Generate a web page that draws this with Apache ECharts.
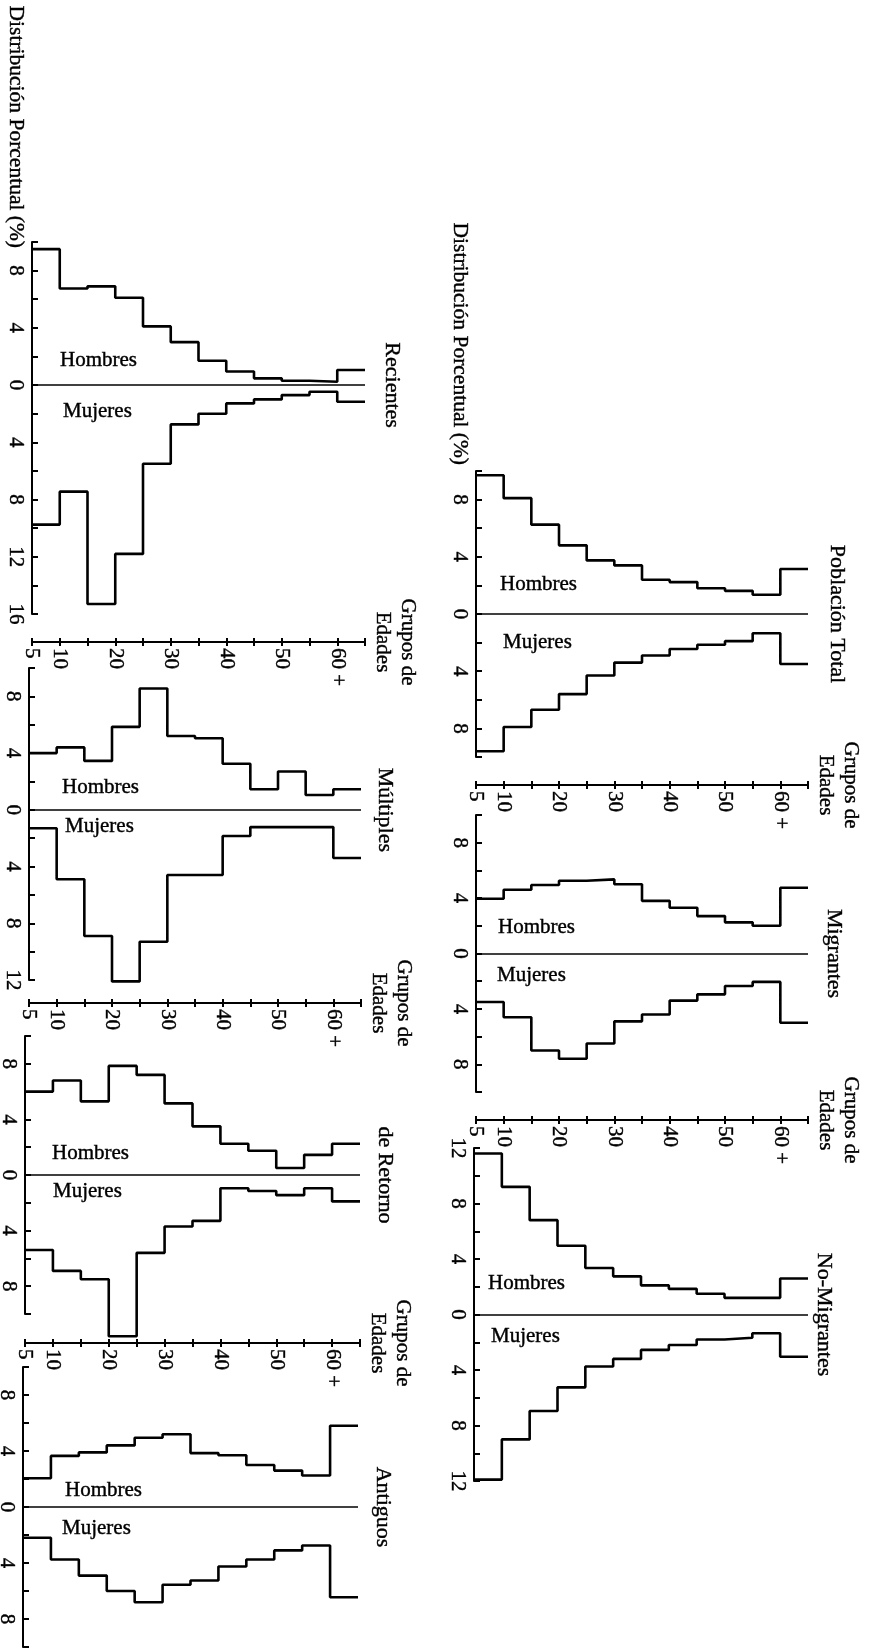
<!DOCTYPE html>
<html><head><meta charset="utf-8">
<script src="https://cdn.jsdelivr.net/npm/echarts@6/dist/echarts.min.js"></script>
<style>html,body{margin:0;padding:0;background:#fff}#c{width:872px;height:1649px}</style>
</head><body><div id="c"></div>
<script>
// ---- data ----
const ageStarts = [5, 10, 15, 20, 25, 30, 35, 40, 45, 50, 55, 60];
const ageEnd = 65;
const ageTickLabels = {5: '5', 10: '10', 20: '20', 30: '30', 40: '40', 50: '50', 60: '60 +'};
const panelNames = ['Población Total', 'Migrantes', 'No-Migrantes', 'Recientes', 'Múltiples', 'de Retorno', 'Antiguos'];
const sexLabels = ['Hombres', 'Mujeres'];
const yTitle = 'Distribución Porcentual (%)';
const xTitle = 'Grupos de\nEdades';

const totalHombres = [9.7, 8.1, 6.25, 4.8, 3.75, 3.4, 2.4, 2.23, 1.8, 1.62, 1.35, 3.15];
const totalMujeres = [9.6, 7.9, 6.7, 5.6, 4.3, 3.4, 2.9, 2.45, 2.15, 1.9, 1.35, 3.5];
const migHombres = [3.95, 4.6, 4.95, 5.25, 5.35, 5.0, 3.8, 3.3, 2.7, 2.25, 2.0, 4.75];
const migMujeres = [3.5, 4.6, 7.0, 7.6, 6.5, 4.9, 4.4, 3.4, 2.95, 2.35, 2.05, 5.0];
const noMigHombres = [11.6, 9.2, 6.8, 4.95, 3.35, 2.75, 2.1, 1.85, 1.5, 1.2, 1.2, 2.6];
const noMigMujeres = [11.9, 9.0, 6.95, 5.25, 3.75, 3.2, 2.55, 2.2, 1.8, 1.68, 1.35, 3.05];
const recHombres = [9.5, 6.75, 6.9, 6.1, 4.1, 3.0, 1.7, 0.95, 0.47, 0.3, 0.23, 1.05];
const recMujeres = [9.75, 7.45, 15.3, 11.8, 5.5, 2.75, 2.0, 1.28, 1.0, 0.7, 0.47, 1.17];
const multHombres = [4.0, 4.4, 3.45, 5.85, 8.55, 5.2, 5.05, 3.25, 1.45, 2.7, 1.05, 1.45];
const multMujeres = [1.3, 4.9, 8.9, 12.1, 9.3, 4.6, 4.6, 1.85, 1.22, 1.22, 1.22, 3.4];
const retHombres = [6.0, 6.8, 5.3, 7.85, 7.2, 5.15, 3.5, 2.25, 1.75, 0.5, 1.45, 2.25];
const retMujeres = [5.4, 6.9, 7.5, 11.6, 5.6, 3.7, 3.3, 0.95, 1.15, 1.45, 0.95, 1.9];
const antHombres = [2.05, 3.65, 3.9, 4.4, 4.95, 5.2, 3.85, 3.7, 3.0, 2.6, 2.25, 5.8];
const antMujeres = [2.2, 3.75, 4.9, 6.0, 6.8, 5.55, 5.25, 4.25, 3.75, 3.1, 2.75, 6.45];

const hombresSets = [totalHombres, migHombres, noMigHombres, recHombres, multHombres, retHombres, antHombres];
const mujeresSets = [totalMujeres, migMujeres, noMigMujeres, recMujeres, multMujeres, retMujeres, antMujeres];
const axisMax = [10, 10, 12, 10, 10, 10, 10];
const axisMin = [-10, -10, -12, -16, -12, -10, -10];

// ---- layout (pixels) ----
const layout = [
  {left: 476, right: 808, top: 471, bottom: 757, axisY: 785, ageAxis: true, titleDx: 29, hx: 24, hy: -30, mx: 27, my: 28, yTitleEnd: -6},
  {left: 476, right: 808, top: 815, bottom: 1092, axisY: 1120, ageAxis: true, titleDx: 26, hx: 22, hy: -26, mx: 21, my: 22},
  {left: 474, right: 808, top: 1148, bottom: 1481, axisY: 1510, ageAxis: false, titleDx: 16, hx: 14, hy: -31, mx: 17, my: 22},
  {left: 32, right: 365, top: 242, bottom: 614, axisY: 642, ageAxis: true, titleDx: 27, hx: 28, hy: -25, mx: 31, my: 26, yTitleEnd: 6},
  {left: 29, right: 361, top: 668, bottom: 980, axisY: 1003, ageAxis: true, titleDx: 24, hx: 33, hy: -22, mx: 36, my: 17},
  {left: 25, right: 360, top: 1036, bottom: 1314, axisY: 1343, ageAxis: true, titleDx: 25, hx: 27, hy: -22, mx: 28, my: 16},
  {left: 23, right: 358, top: 1367, bottom: 1647, axisY: 1675, ageAxis: false, titleDx: 25, hx: 42, hy: -17, mx: 39, my: 21}
];

const FONT = '"Liberation Serif", "DejaVu Serif", serif';
const INK = '#000';
const TXT = 21;
const HEAVY = 0.4;

const grid = [], xAxis = [], yAxis = [], series = [], graphic = [];

function gText(text, x, y, rot, align, size) {
  return {type: 'text', x, y, rotation: rot, silent: true,
    style: {text, font: size + 'px ' + FONT, fill: INK, stroke: INK, lineWidth: HEAVY,
            align, verticalAlign: 'middle'}};
}

layout.forEach((L, i) => {
  grid.push({left: L.left, top: L.top, width: L.right - L.left, height: L.bottom - L.top,
             outerBoundsMode: 'none', containLabel: false});
  const off = L.axisY - L.bottom;
  xAxis.push({
    gridIndex: i, type: 'value', min: ageStarts[0], max: ageEnd, interval: 5, position: 'bottom', offset: off,
    show: L.ageAxis,
    axisLine: {show: true, onZero: false, lineStyle: {color: INK, width: 2}},
    axisTick: {show: true, length: 4, lineStyle: {color: INK, width: 2}},
    axisLabel: {show: true, rotate: -90, margin: 6, color: INK, fontFamily: FONT, fontSize: TXT,
                textBorderColor: INK, textBorderWidth: HEAVY,
                formatter: v => ageTickLabels[v] || ''},
    splitLine: {show: false},
    name: xTitle, nameLocation: 'end', nameGap: 5, nameRotate: -90,
    nameTextStyle: {color: INK, fontFamily: FONT, fontSize: TXT, lineHeight: 25, align: 'center',
                    textBorderColor: INK, textBorderWidth: HEAVY}
  });
  xAxis.push({
    gridIndex: i, type: 'value', min: ageStarts[0], max: ageEnd, interval: 5, position: 'bottom', offset: off,
    show: L.ageAxis,
    axisLine: {show: false, onZero: false},
    axisTick: {show: true, inside: true, length: 4, lineStyle: {color: INK, width: 2}},
    axisLabel: {show: false}, splitLine: {show: false}
  });
  yAxis.push({
    gridIndex: i, type: 'value', min: axisMin[i], max: axisMax[i], interval: 2,
    axisLine: {show: true, onZero: false, lineStyle: {color: INK, width: 2}},
    axisTick: {show: true, inside: true, length: 6, lineStyle: {color: INK, width: 2}},
    axisLabel: {rotate: -90, margin: 6, color: INK, fontFamily: FONT, fontSize: TXT,
                textBorderColor: INK, textBorderWidth: HEAVY,
                formatter: v => (v % 4 === 0 ? String(Math.abs(v)) : '')},
    splitLine: {show: false}
  });
  const h = hombresSets[i], m = mujeresSets[i];
  const hData = ageStarts.map((a, k) => [a, h[k]]).concat([[ageEnd, h[h.length - 1]]]);
  const mData = ageStarts.map((a, k) => [a, -m[k]]).concat([[ageEnd, -m[m.length - 1]]]);
  const common = {type: 'line', step: 'end', xAxisIndex: 2 * i, yAxisIndex: i, symbol: 'none',
                  clip: false, silent: true, animation: false,
                  lineStyle: {color: INK, width: 2.6}};
  series.push(Object.assign({name: panelNames[i] + ' ' + sexLabels[0], data: hData,
    markLine: {silent: true, symbol: ['none', 'none'], animation: false, label: {show: false},
               lineStyle: {color: INK, width: 1.5, type: 'solid'}, data: [{yAxis: 0}]}}, common));
  series.push(Object.assign({name: panelNames[i] + ' ' + sexLabels[1], data: mData}, common));

  const zeroY = L.top + axisMax[i] * (L.bottom - L.top) / (axisMax[i] - axisMin[i]);
  graphic.push(gText(panelNames[i], L.right + L.titleDx, zeroY, -Math.PI / 2, 'center', 22));
  graphic.push(gText(sexLabels[0], L.left + L.hx, zeroY + L.hy, 0, 'left', TXT));
  graphic.push(gText(sexLabels[1], L.left + L.mx, zeroY + L.my, 0, 'left', TXT));
  if (L.yTitleEnd !== undefined) {
    graphic.push(gText(yTitle, L.left - 16, L.top + L.yTitleEnd, -Math.PI / 2, 'right', 21.5));
  }
});

const chart = echarts.init(document.getElementById('c'), null, {renderer: 'canvas'});
chart.setOption({backgroundColor: '#fff', animation: false, grid, xAxis, yAxis, series, graphic});
</script></body></html>
